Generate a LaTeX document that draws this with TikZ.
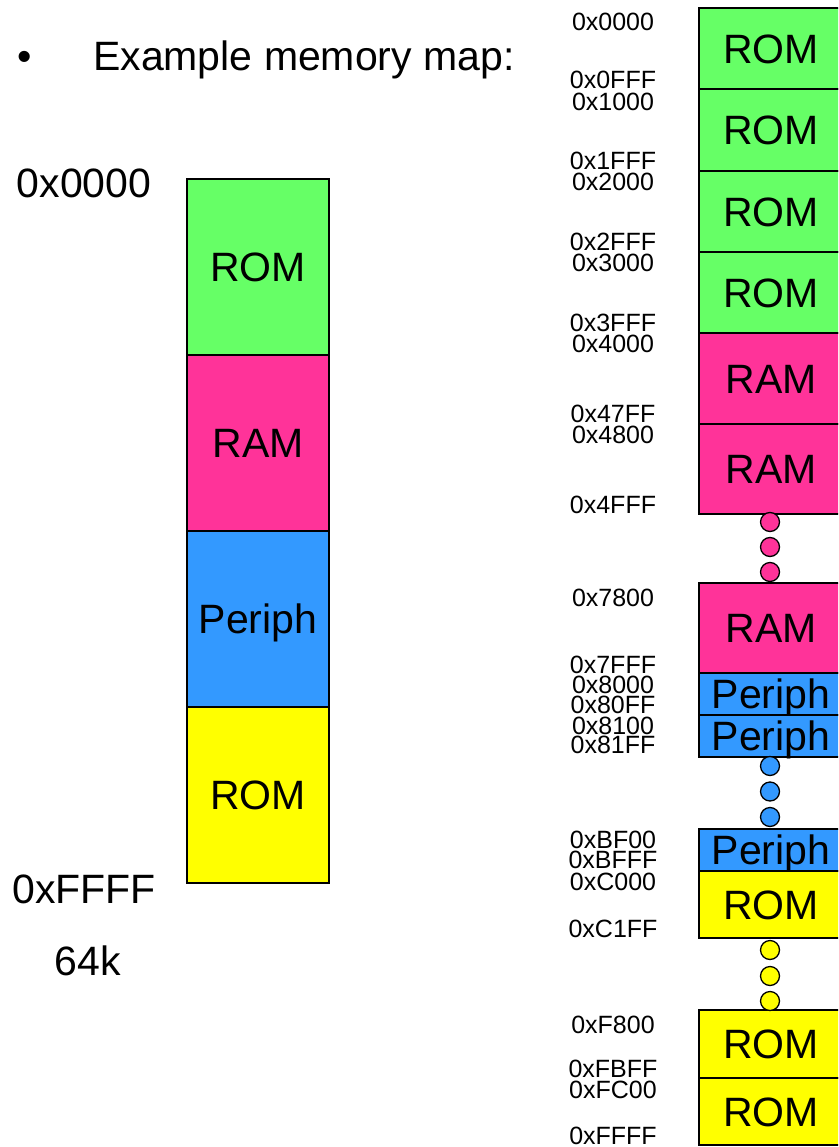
\documentclass[tikz,border=0pt]{standalone}
\usepackage{xcolor}
\usepackage{fontspec}
\setmainfont{Liberation Sans}
\usepackage{tikz}
\usetikzlibrary{positioning}

\definecolor{romgreen}{HTML}{66FF66}
\definecolor{rampink}{HTML}{FF3399}
\definecolor{perblue}{HTML}{3399FF}
\definecolor{romyellow}{HTML}{FFFF00}

\tikzset{
  memblk/.style={draw, line width=2.2pt, inner sep=0pt, outer sep=0pt,
    font=\fontsize{41}{41}\selectfont, text height=29.5pt, text depth=0pt},
  leftblk/.style={memblk, minimum width=142pt},
  rightblk/.style={memblk, minimum width=144pt},
  bigaddr/.style={font=\fontsize{41}{41}\selectfont, inner sep=0pt},
  addr/.style={font=\fontsize{25}{25}\selectfont, inner sep=0pt},
  gapdot/.style={circle, draw, line width=1.3pt, minimum size=19pt, inner sep=0pt}
}

\begin{document}
\begin{tikzpicture}[x=1pt, y=-1pt, node distance=0pt]
    \useasboundingbox (0,0) rectangle (838,1147);
    \clip (0,0) rectangle (838,1147);

    % heading
    \node[bigaddr, anchor=base] (bullet) at (25,71) {•};
    \node[bigaddr, anchor=base west] (title) at (93,71) {Example memory map:};

    % whole 64k map
    \node[leftblk, fill=romgreen, minimum height=176pt] (lrom) at (258,267) {ROM};
    \node[leftblk, fill=rampink, minimum height=176pt, below=of lrom] (lram) {RAM};
    \node[leftblk, fill=perblue, minimum height=176pt, below=of lram] (lper) {Periph};
    \node[leftblk, fill=romyellow, minimum height=176pt, below=of lper] (lrom2) {ROM};
    \node[bigaddr] (ltop) at (84,183) {0x0000};
    \node[bigaddr] (lend) at (84,889) {0xFFFF};
    \node[bigaddr] (lsize) at (88,961) {64k};

    % detailed map
    \node[rightblk, fill=romgreen, minimum height=81pt] (r1) at (771,48.5) {ROM};
    \node[rightblk, fill=romgreen, minimum height=82pt, below=of r1] (r2) {ROM};
    \node[rightblk, fill=romgreen, minimum height=81pt, below=of r2] (r3) {ROM};
    \node[rightblk, fill=romgreen, minimum height=81pt, below=of r3] (r4) {ROM};
    \node[rightblk, fill=rampink, minimum height=91pt, below=of r4] (r5) {RAM};
    \node[rightblk, fill=rampink, minimum height=90pt, below=of r5] (r6) {RAM};
    \node[rightblk, fill=rampink, minimum height=90pt, below=69pt of r6] (r7) {RAM};
    \node[rightblk, fill=perblue, minimum height=42pt, below=of r7] (r8) {Periph};
    \node[rightblk, fill=perblue, minimum height=42pt, below=of r8] (r9) {Periph};
    \node[rightblk, fill=perblue, minimum height=42pt, below=72pt of r9] (r10) {Periph};
    \node[rightblk, fill=romyellow, minimum height=67pt, below=of r10] (r11) {ROM};
    \node[rightblk, fill=romyellow, minimum height=68pt, below=72pt of r11] (r12) {ROM};
    \node[rightblk, fill=romyellow, minimum height=67pt, below=of r12] (r13) {ROM};

    % gaps
    \foreach \k/\yy in {1/522,2/547,3/572}
      \node[gapdot, fill=rampink] (pdot\k) at (770,\yy) {};
    \foreach \k/\yy in {1/766,2/791.5,3/817}
      \node[gapdot, fill=perblue] (bdot\k) at (770,\yy) {};
    \foreach \k/\yy in {1/950,2/976,3/1001}
      \node[gapdot, fill=romyellow] (ydot\k) at (770,\yy) {};

    % addresses
    \foreach \yy/\txt in {22/0x0000, 80/0x0FFF, 102/0x1000, 161/0x1FFF, 182/0x2000,
        242/0x2FFF, 263/0x3000, 323/0x3FFF, 344/0x4000, 414/0x47FF, 435/0x4800,
        505/0x4FFF, 598/0x7800, 665/0x7FFF, 685/0x8000, 705/0x80FF, 726/0x8100,
        745/0x81FF, 840/0xBF00, 860/0xBFFF, 882/0xC000, 929/0xC1FF, 1025/0xF800,
        1069/0xFBFF, 1090/0xFC00, 1136/0xFFFF}
      \node[addr] (a\yy) at (613,\yy) {\txt};
\end{tikzpicture}
\end{document}
